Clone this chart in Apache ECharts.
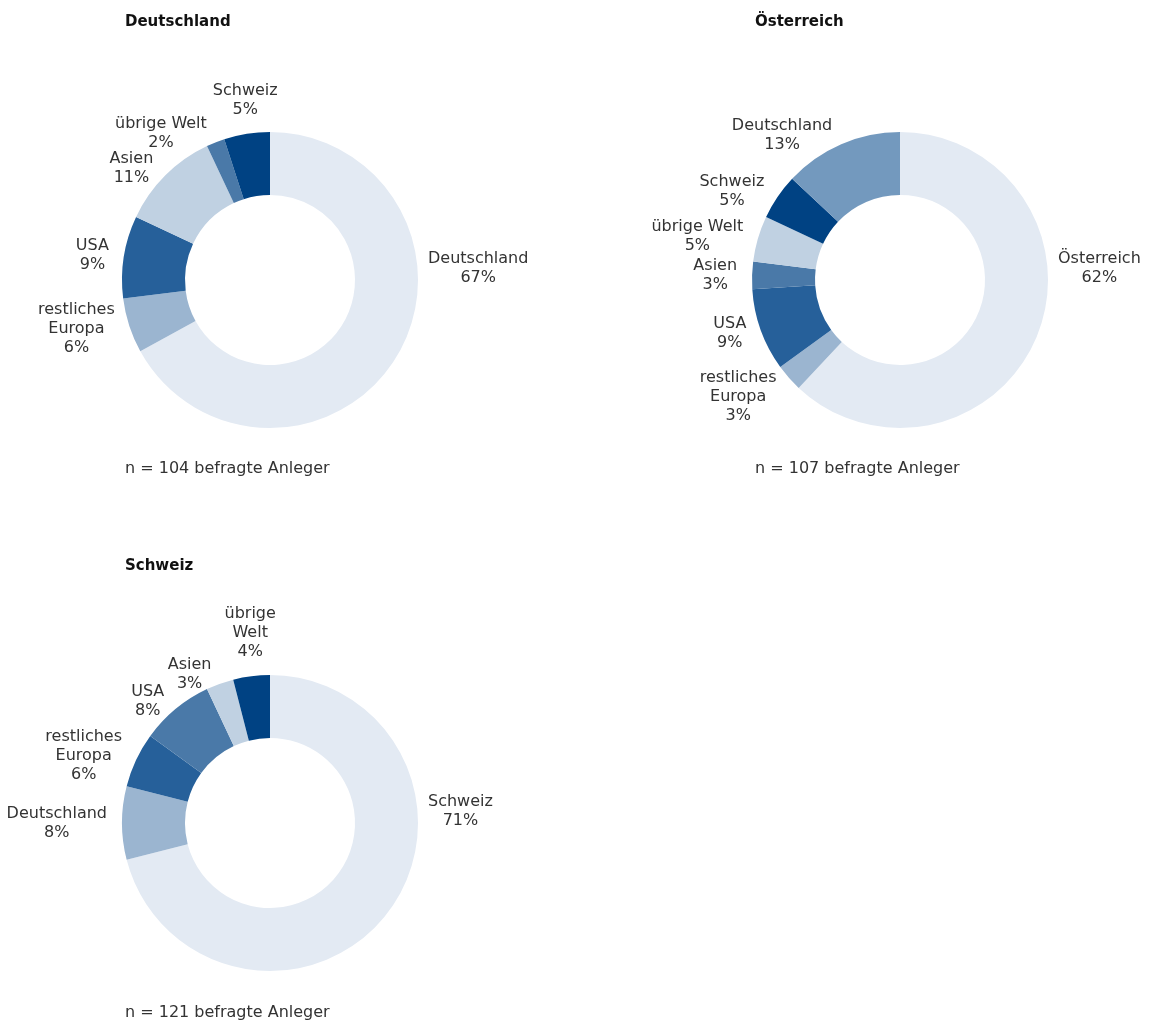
<!DOCTYPE html>
<html>
<head>
<meta charset="utf-8">
<script src="https://cdn.jsdelivr.net/npm/echarts@6/dist/echarts.min.js"></script>
<style>
body{margin:0;background:#fff;}
#main{width:1150px;height:1023px;}
</style>
</head>
<body>
<div id="main"></div>
<script>
// Anlageregionen je Land, Anteile in %
var titles = ['Deutschland', 'Österreich', 'Schweiz'];
var notes = ['n = 104 befragte Anleger', 'n = 107 befragte Anleger', 'n = 121 befragte Anleger'];

var deNames = ['Deutschland', 'restliches\nEuropa', 'USA', 'Asien', 'übrige Welt', 'Schweiz'];
var deValues = [67, 6, 9, 11, 2, 5];

var atNames = ['Österreich', 'restliches\nEuropa', 'USA', 'Asien', 'übrige Welt', 'Schweiz', 'Deutschland'];
var atValues = [62, 3, 9, 3, 5, 5, 13];

var chNames = ['Schweiz', 'Deutschland', 'restliches\nEuropa', 'USA', 'Asien', 'übrige\nWelt'];
var chValues = [71, 8, 6, 8, 3, 4];

// Farben je Segment
var deColors = ['#e3eaf3', '#9bb5d0', '#26609a', '#c0d1e2', '#4a79a8', '#004283'];
var atColors = ['#e3eaf3', '#9bb5d0', '#26609a', '#4a79a8', '#c0d1e2', '#004283', '#7399be'];
var chColors = ['#e3eaf3', '#9bb5d0', '#26609a', '#4a79a8', '#c0d1e2', '#004283'];

var font = 'DejaVu Sans';
var R0 = 85, R = 148;
var pies = [
    {names: deNames, values: deValues, colors: deColors, center: [270, 280], tx: 125, ty: 15},
    {names: atNames, values: atValues, colors: atColors, center: [900, 280], tx: 755, ty: 15},
    {names: chNames, values: chValues, colors: chColors, center: [270, 823], tx: 125, ty: 559}
];

// Beschriftung neben dem Segment platzieren
function placeLabel(pie, idx) {
    var cx = pie.center[0], cy = pie.center[1];
    if (idx === 0) {
        return {x: cx + R + 10, y: cy - 12, align: 'left', verticalAlign: 'middle'};
    }
    var total = 0, before = 0;
    pie.values.forEach(function (v, i) {
        total += v;
        if (i < idx) before += v;
    });
    var a = (before + pie.values[idx] / 2) / total * Math.PI * 2;
    var ux = Math.sin(a), uy = -Math.cos(a);
    var px = cx + ux * (R + 10), py = cy + uy * (R + 10);
    if (Math.abs(ux) < 0.2) {
        return {x: px, y: py - 5, align: 'center', verticalAlign: 'bottom'};
    }
    if (uy > 0.5) py += 12;
    return {x: px + (ux < 0 ? -5 : 5), y: py, align: ux < 0 ? 'right' : 'left', verticalAlign: 'middle'};
}

var titleList = [];
var series = [];
pies.forEach(function (pie, k) {
    titleList.push({
        text: titles[k], left: pie.tx, top: pie.ty, padding: 0,
        textStyle: {fontFamily: font, fontSize: 15, fontWeight: 'bold', color: '#111'}
    });
    titleList.push({
        text: notes[k], left: pie.tx, top: pie.ty + 446, padding: 0,
        textStyle: {fontFamily: font, fontSize: 16, fontWeight: 'normal', color: '#333'}
    });
    series.push({
        type: 'pie',
        center: pie.center,
        radius: [R0, R],
        startAngle: 90,
        clockwise: true,
        avoidLabelOverlap: false,
        silent: true,
        itemStyle: {borderWidth: 0},
        label: {
            show: true,
            position: 'outside',
            formatter: function (p) {
                var lines = p.name.split('\n').map(function (s) { return '{a|' + s + '}'; });
                lines.push('{a|' + p.value + '%}');
                return lines.join('\n');
            },
            rich: {a: {align: 'center', fontFamily: font, fontSize: 16, lineHeight: 19, color: '#333'}}
        },
        labelLine: {show: false},
        labelLayout: function (p) { return placeLabel(pie, p.dataIndex); },
        data: pie.values.map(function (v, i) {
            return {name: pie.names[i], value: v, itemStyle: {color: pie.colors[i]}};
        })
    });
});

var myChart = echarts.init(document.getElementById('main'));
myChart.setOption({
    animation: false,
    title: titleList,
    series: series
});
</script>
</body>
</html>
